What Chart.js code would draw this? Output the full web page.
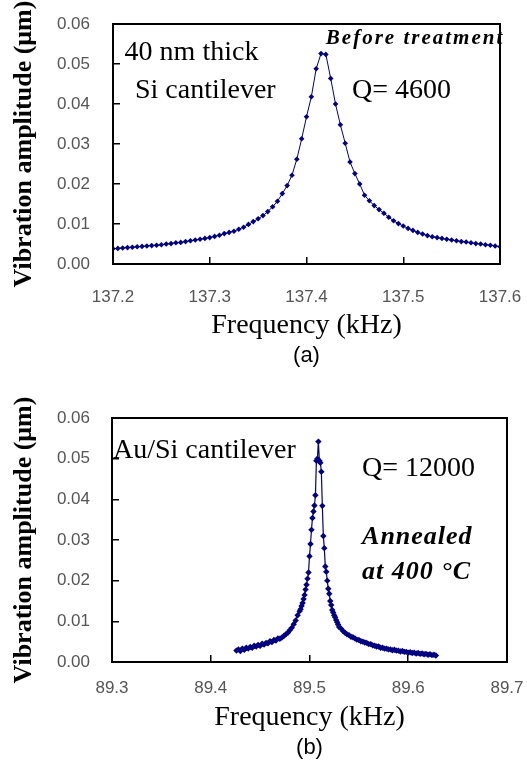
<!DOCTYPE html>
<html><head><meta charset="utf-8">
<script src="https://cdn.jsdelivr.net/npm/chart.js@4.4.0/dist/chart.umd.min.js"></script>
<style>html,body{margin:0;padding:0;background:#fff;}canvas{display:block;}</style>
</head><body>
<canvas id="ca" width="527" height="380"></canvas>
<canvas id="cb" width="527" height="396"></canvas>
<script>
// ---------- data: panel (a) ----------
const freqA = [137.200,137.205,137.210,137.215,137.220,137.225,137.230,137.235,137.240,137.245,
137.250,137.255,137.260,137.265,137.270,137.275,137.280,137.285,137.290,137.295,
137.300,137.305,137.310,137.315,137.320,137.325,137.330,137.335,137.340,137.345,
137.350,137.355,137.360,137.365,137.370,137.375,137.380,137.385,137.390,137.395,
137.400,137.405,137.410,137.415,137.420,137.425,137.430,137.435,137.440,137.445,
137.450,137.455,137.460,137.465,137.470,137.475,137.480,137.485,137.490,137.495,
137.500,137.505,137.510,137.515,137.520,137.525,137.530,137.535,137.540,137.545,
137.550,137.555,137.560,137.565,137.570,137.575,137.580,137.585,137.590,137.595,137.600];
const ampA = [0.0038,0.0039,0.0040,0.0041,0.0042,0.0043,0.0044,0.0045,0.0046,0.0047,
0.0048,0.0050,0.0051,0.0053,0.0054,0.0056,0.0058,0.0060,0.0062,0.0064,
0.0066,0.0069,0.0072,0.0076,0.0079,0.0082,0.0087,0.0092,0.0099,0.0106,
0.0113,0.0121,0.0131,0.0143,0.0157,0.0176,0.0196,0.0222,0.0262,0.0313,
0.0368,0.0418,0.0488,0.0526,0.0524,0.0464,0.0400,0.0348,0.0302,0.0255,
0.0226,0.0200,0.0172,0.0158,0.0146,0.0136,0.0127,0.0117,0.0108,0.0101,
0.0095,0.0089,0.0084,0.0079,0.0075,0.0071,0.0068,0.0066,0.0064,0.0062,
0.0060,0.0058,0.0056,0.0055,0.0053,0.0051,0.0050,0.0048,0.0047,0.0045,0.0043];

// ---------- data: panel (b) ----------
const freqB = [89.426,89.428,89.430,89.432,89.434,89.436,89.438,89.440,89.442,89.444,
89.446,89.448,89.450,89.452,89.454,89.456,89.458,89.460,89.462,89.464,
89.466,89.468,89.470,89.472,89.474,89.476,89.478,89.480,89.482,89.484,89.486,89.488,
89.490,89.491,89.492,89.493,89.494,89.495,89.496,89.497,89.498,89.499,
89.500,89.501,89.502,89.503,89.504,89.505,89.506,89.507,89.508,89.509,
89.510,89.511,89.512,89.513,89.514,89.515,89.516,89.517,89.518,89.519,
89.520,89.521,89.522,89.523,89.524,89.525,89.526,89.527,89.528,89.529,89.530,
89.532,89.534,89.536,89.538,89.540,89.542,89.544,89.546,89.548,89.550,
89.552,89.554,89.556,89.558,89.560,89.562,89.564,89.566,89.568,89.570,
89.572,89.574,89.576,89.578,89.580,89.582,89.584,89.586,89.588,89.590,
89.592,89.594,89.596,89.598,89.600,89.602,89.604,89.606,89.608,89.610,
89.612,89.614,89.616,89.618,89.620,89.622,89.624,89.626,89.628];
const ampB = [0.0028,0.0031,0.0027,0.0033,0.0030,0.0035,0.0033,0.0037,0.0035,0.0040,
0.0038,0.0042,0.0040,0.0045,0.0043,0.0047,0.0046,0.0051,0.0049,0.0054,
0.0053,0.0058,0.0057,0.0060,0.0064,0.0068,0.0072,0.0078,0.0084,0.0093,0.0102,0.0115,
0.0125,0.0130,0.0138,0.0145,0.0155,0.0165,0.0178,0.0190,0.0205,0.0220,
0.0260,0.0290,0.0325,0.0354,0.0370,0.0385,0.0410,0.0495,0.0500,0.0542,
0.0495,0.0490,0.0468,0.0384,0.0310,0.0280,0.0235,0.0222,0.0200,0.0180,
0.0168,0.0150,0.0140,0.0128,0.0122,0.0115,0.0110,0.0103,0.0098,0.0092,0.0086,
0.0082,0.0076,0.0072,0.0068,0.0066,0.0062,0.0061,0.0058,0.0055,0.0054,
0.0051,0.0050,0.0048,0.0047,0.0044,0.0044,0.0041,0.0040,0.0038,0.0038,
0.0035,0.0035,0.0033,0.0033,0.0031,0.0031,0.0029,0.0030,0.0028,0.0028,
0.0026,0.0027,0.0025,0.0025,0.0023,0.0024,0.0022,0.0023,0.0021,0.0022,
0.0020,0.0021,0.0019,0.0020,0.0018,0.0019,0.0017,0.0018,0.0016];

// ---------- tick labels & texts ----------
const xTicksA = ['137.2','137.3','137.4','137.5','137.6'];
const xTicksB = ['89.3','89.4','89.5','89.6','89.7'];
const yTicks = ['0.00','0.01','0.02','0.03','0.04','0.05','0.06'];
const notesTextA = ['40 nm thick','Si cantilever','Q= 4600','Before treatment'];
const notesTextB = ['Au/Si cantilever','Q= 12000','Annealed','at 400 \u00B0C'];

const SERIF = "'Liberation Serif','Times New Roman',serif";
const SANS = "'Liberation Sans',Arial,sans-serif";
const NAVY = '#000080';

const framePlugin = {
  id: 'frameNotes',
  afterDatasetsDraw(chart, args, opts) {
    const {ctx, scales: {x, y}} = chart;
    ctx.save();
    ctx.fillStyle = '#000';
    ctx.textAlign = 'left';
    ctx.textBaseline = 'middle';
    (opts.notes || []).forEach(n => {
      ctx.font = n.font;
      ctx.letterSpacing = (n.spacing || 0) + 'px';
      ctx.fillText(n.text, x.getPixelForValue(n.x), y.getPixelForValue(n.y));
    });
    ctx.restore();
  },
  afterDraw(chart) {
    const {ctx, chartArea: a} = chart;
    ctx.save();
    ctx.strokeStyle = '#000';
    ctx.lineWidth = 2;
    ctx.strokeRect(a.left, a.top, a.right - a.left, a.bottom - a.top);
    ctx.restore();
  }
};

function makeChart(id, p) {
  return new Chart(document.getElementById(id), {
    type: 'line',
    data: {
      datasets: [{
        data: p.xs.map((v, i) => ({x: v, y: p.ys[i]})),
        borderColor: NAVY, borderWidth: p.lineW,
        pointStyle: 'rectRot', pointRadius: p.ptR, pointBorderWidth: 0,
        pointBackgroundColor: NAVY, tension: 0
      }]
    },
    plugins: [framePlugin],
    options: {
      responsive: false, animation: false, devicePixelRatio: 1,
      layout: {padding: {left: 0, top: p.padTop, right: p.padRight, bottom: 0}},
      plugins: {
        legend: {display: false}, tooltip: {enabled: false},
        title: {display: true, position: 'bottom', fullSize: false, text: p.panel,
          font: {family: SANS, size: 22, weight: 'normal'}, color: '#000',
          padding: {top: 0, bottom: p.panelPad}},
        frameNotes: {notes: p.notes}
      },
      scales: {
        x: {
          type: 'linear', min: p.xmin, max: p.xmax,
          afterFit: s => { s.height = p.xAxisH; s.paddingLeft = 0; s.paddingRight = 0; },
          ticks: {stepSize: 0.1, padding: p.xTickPad, color: '#555',
            font: {family: SANS, size: 17},
            callback: (v, i) => p.xTicks[i]},
          grid: {drawOnChartArea: false, drawTicks: true, tickLength: -7, color: '#000', lineWidth: 1.5},
          border: {display: true, color: '#000', width: 2},
          title: {display: true, text: 'Frequency (kHz)', color: '#000',
            font: {family: SERIF, size: 28}, padding: {top: 0, bottom: 0}}
        },
        y: {
          type: 'linear', min: 0, max: 0.06,
          afterFit: s => { s.width = p.yAxisW; s.paddingTop = 0; s.paddingBottom = 0; },
          ticks: {stepSize: 0.01, padding: p.yTickPad, color: '#555',
            font: {family: SANS, size: 17},
            callback: (v, i) => yTicks[i]},
          grid: {drawOnChartArea: false, drawTicks: true, tickLength: -7, color: '#000', lineWidth: 1.5},
          border: {display: true, color: '#000', width: 2},
          title: {display: true, text: 'Vibration amplitude (\u03BCm)', color: '#000',
            font: {family: SERIF, size: 26, weight: 'bold'}, padding: {top: 9, bottom: 0}}
        }
      }
    }
  });
}

makeChart('ca', {
  xs: freqA, ys: ampA, xmin: 137.2, xmax: 137.6, xTicks: xTicksA, panel: '(a)',
  padTop: 24, padRight: 27, panelPad: 10.8, xAxisH: 78.8, xTickPad: 30, yAxisW: 113, yTickPad: 30,
  lineW: 1, ptR: 2.8,
  notes: [
    {text: notesTextA[0], x: 137.212, y: 0.05275, font: '28px ' + SERIF},
    {text: notesTextA[1], x: 137.2227, y: 0.04325, font: '28px ' + SERIF},
    {text: notesTextA[2], x: 137.447, y: 0.04325, font: '28px ' + SERIF},
    {text: notesTextA[3], x: 137.420, y: 0.05625, font: 'italic bold 21px ' + SERIF, spacing: 2}
  ]
});

makeChart('cb', {
  xs: freqB, ys: ampB, xmin: 89.3, xmax: 89.7, xTicks: xTicksB, panel: '(b)',
  padTop: 38, padRight: 20, panelPad: 14.8, xAxisH: 72.8, xTickPad: 23, yAxisW: 112, yTickPad: 29,
  lineW: 1.2, ptR: 3.2,
  notes: [
    {text: notesTextB[0], x: 89.301, y: 0.0519, font: '28px ' + SERIF},
    {text: notesTextB[1], x: 89.5532, y: 0.04746, font: '28px ' + SERIF},
    {text: notesTextB[2], x: 89.5532, y: 0.03074, font: 'italic bold 26px ' + SERIF, spacing: 1},
    {text: notesTextB[3], x: 89.5532, y: 0.02213, font: 'italic bold 26px ' + SERIF, spacing: 1}
  ]
});
</script>
</body></html>
